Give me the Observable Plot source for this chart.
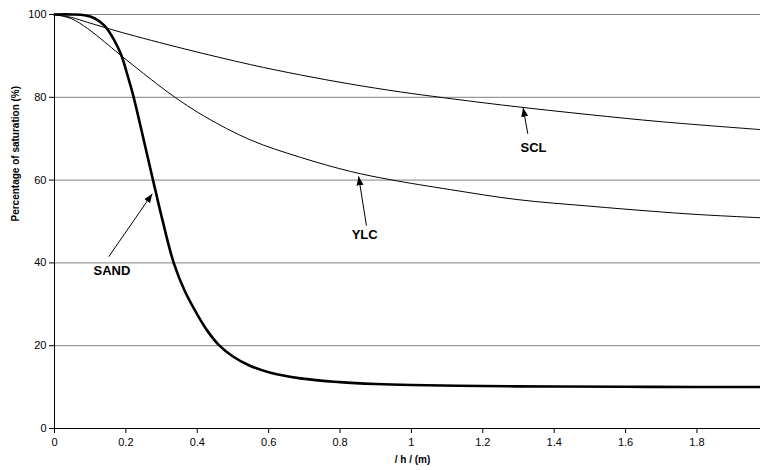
<!DOCTYPE html>
<html>
<head>
<meta charset="utf-8">
<script src="https://cdn.jsdelivr.net/npm/d3@7"></script>
<script src="https://cdn.jsdelivr.net/npm/@observablehq/plot@0.6"></script>
<style>
  html, body { margin: 0; padding: 0; background: #fff; }
  #chart { width: 760px; height: 470px; }
</style>
</head>
<body>
<div id="chart"></div>
<script>
// ---- Data ----
const sandX = [0, 0.05, 0.084, 0.112, 0.14, 0.168, 0.187, 0.207, 0.221, 0.247, 0.276, 0.302, 0.334, 0.365, 0.405, 0.43, 0.46, 0.5, 0.549, 0.6, 0.689, 0.8, 0.9, 1.0, 1.2, 1.4, 1.6, 1.8, 1.978];
const sandY = [100, 100, 99.8, 99.1, 97.3, 93.7, 90.2, 84.6, 80.3, 70.8, 60, 50.5, 40, 33.2, 26.8, 23.4, 20.2, 17.4, 15.1, 13.6, 12.1, 11.2, 10.75, 10.5, 10.25, 10.13, 10.07, 10.04, 10.02];

const ylcX = [0, 0.047, 0.093, 0.14, 0.182, 0.271, 0.331, 0.42, 0.549, 0.689, 0.829, 0.941, 1.109, 1.296, 1.5, 1.67, 1.8, 1.978];
const ylcY = [100, 99, 96.6, 93.4, 90.4, 84.3, 80.4, 75.4, 69.7, 65.5, 62.1, 60.1, 57.7, 55.3, 53.7, 52.5, 51.7, 50.9];

const sclX = [0, 0.047, 0.093, 0.187, 0.364, 0.549, 0.689, 0.829, 0.969, 1.09, 1.277, 1.5, 1.7, 1.978];
const sclY = [100, 99.3, 98.1, 95.7, 91.7, 87.9, 85.4, 83.2, 81.3, 79.9, 77.9, 75.8, 74.1, 72.2];

const xTicks = [0, 0.2, 0.4, 0.6, 0.8, 1.0, 1.2, 1.4, 1.6, 1.8];
const yTicks = [0, 20, 40, 60, 80, 100];
const gridY = [20, 40, 60, 80, 100];

const labelNames = ["SAND", "YLC", "SCL"];
const labelX = [0.161, 0.869, 1.342];
const labelY = [38.2, 46.8, 67.9];
const tailX = [0.152, 0.874, 1.326];
const tailY = [41.5, 49.0, 71.2];
const tipX = [0.274, 0.852, 1.313];
const tipY = [56.7, 60.9, 77.5];

const xTitle = "/ h / (m)";
const yTitle = "Percentage of saturation (%)";

// ---- Build tables ----
const sand = sandX.map((x, i) => ({x, y: sandY[i]}));
const ylc = ylcX.map((x, i) => ({x, y: ylcY[i]}));
const scl = sclX.map((x, i) => ({x, y: sclY[i]}));
const notes = labelNames.map((name, i) => ({
  name, lx: labelX[i], ly: labelY[i], x1: tailX[i], y1: tailY[i], x2: tipX[i], y2: tipY[i]
}));

const font = "'Liberation Sans', Arial, Helvetica, sans-serif";

const chart = Plot.plot({
  width: 760,
  height: 470,
  marginLeft: 54,
  marginRight: 0,
  marginTop: 14,
  marginBottom: 42,
  style: {fontFamily: font, fontSize: "11px", color: "#000", background: "#fff", overflow: "visible"},
  x: {
    domain: [0, 1.978],
    ticks: xTicks,
    tickSize: 5,
    tickPadding: 5,
    tickFormat: d => String(+d.toFixed(1)),
    label: null
  },
  y: {
    domain: [0, 100],
    ticks: yTicks,
    tickSize: 5,
    tickPadding: 3,
    label: null
  },
  marks: [
    Plot.ruleY(gridY, {stroke: "#808080", strokeWidth: 1}),
    Plot.ruleX([0], {stroke: "#000", strokeWidth: 1}),
    Plot.ruleY([0], {stroke: "#000", strokeWidth: 1}),
    Plot.line(scl, {x: "x", y: "y", stroke: "#000", strokeWidth: 1, curve: "catmull-rom"}),
    Plot.line(ylc, {x: "x", y: "y", stroke: "#000", strokeWidth: 1, curve: "catmull-rom"}),
    Plot.line(sand, {x: "x", y: "y", stroke: "#000", strokeWidth: 2.6, curve: "catmull-rom"}),
    Plot.link(notes, {x1: "x1", y1: "y1", x2: "x2", y2: "y2", stroke: "#000", strokeWidth: 1, markerEnd: "arrow"}),
    Plot.text(notes, {x: "lx", y: "ly", text: "name", fontWeight: "bold", fontSize: 13, fill: "#000", textAnchor: "middle", lineAnchor: "middle"}),
    Plot.text([yTitle], {frameAnchor: "left", rotate: -90, dx: -39, fontWeight: "bold", fontSize: 10, fill: "#000"}),
    Plot.text([xTitle], {frameAnchor: "bottom", dy: 34, dx: 5, fontWeight: "bold", fontSize: 10, fill: "#000"})
  ]
});

// Replace the open arrow markers with filled triangular heads
chart.querySelectorAll("marker").forEach(m => {
  m.setAttribute("viewBox", "-9 -4 9 8");
  m.setAttribute("markerWidth", "9");
  m.setAttribute("markerHeight", "8");
  m.setAttribute("refX", "0");
  m.setAttribute("refY", "0");
  m.setAttribute("orient", "auto");
  m.innerHTML = "";
  const p = document.createElementNS("http://www.w3.org/2000/svg", "path");
  p.setAttribute("d", "M-9,-3.5L0,0L-9,3.5Z");
  p.setAttribute("fill", "#000");
  p.setAttribute("stroke", "none");
  m.appendChild(p);
});

document.getElementById("chart").appendChild(chart);
</script>
</body>
</html>
